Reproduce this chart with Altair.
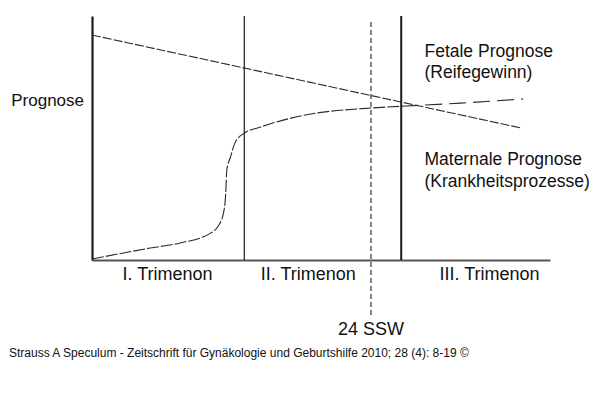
import altair as alt
import pandas as pd

# --- data (weeks of gestation vs. prognosis, schematic) ---
mat_weeks = [0.0, 36.9]
mat_values = [92.2, 54.1]

fet_weeks = [0.0, 5.0, 7.6, 10.2, 10.8, 11.3, 11.5, 11.6, 11.9, 12.3, 13.1, 14.5, 17.9, 24.0, 26.6]
fet_values = [0.4, 4.9, 7.0, 11.0, 13.5, 19.0, 27.0, 37.0, 42.0, 48.0, 52.0, 54.5, 59.0, 62.3, 63.0]
fet_late_weeks = [26.6, 31.7, 37.1]
fet_late_values = [63.0, 64.3, 66.0]

boundary_weeks = [13.1, 26.6]
boundary_widths = [1.2, 2.0]
ssw_week = [24.0]
ssw_label = ["24 SSW"]

tri_labels = ["I. Trimenon", "II. Trimenon", "III. Trimenon"]
tri_centers = [6.5, 18.6, 34.2]

ann_labels = ["Fetale Prognose", "(Reifegewinn)", "Maternale Prognose", "(Krankheitsprozesse)"]
ann_x = [28.6, 28.6, 28.6, 28.6]
ann_y = [85.2, 76.6, 41.0, 32.0]

y_title = "Prognose"
footer = "Strauss A Speculum - Zeitschrift für Gynäkologie und Geburtshilfe 2010; 28 (4): 8-19 ©"

W, H = 458, 244
FONT = "Liberation Sans"
LINE = "#2a2a2a"

xs = alt.Scale(domain=[0, 39.4], nice=False, zero=False)
ys = alt.Scale(domain=[0, 100], nice=False)

mat_df = pd.DataFrame({"week": mat_weeks, "value": mat_values})
fet_df = pd.DataFrame({
    "week": fet_weeks + fet_late_weeks,
    "value": fet_values + fet_late_values,
    "part": ["early"] * len(fet_weeks) + ["late"] * len(fet_late_weeks),
})
bnd_df = pd.DataFrame({"week": boundary_weeks, "w": boundary_widths})
ssw_df = pd.DataFrame({"week": ssw_week, "label": ssw_label})
tri_df = pd.DataFrame({"label": tri_labels, "week": tri_centers})
ann_df = pd.DataFrame({"label": ann_labels, "week": ann_x, "value": ann_y})
txt_df = pd.DataFrame({"t": [y_title]})
foot_df = pd.DataFrame({"t": [footer]})

base_x = alt.X("week:Q", scale=xs,
               axis=alt.Axis(domain=True, domainColor="#555", domainWidth=2,
                             ticks=False, labels=False, grid=False, title=None))
base_y = alt.Y("value:Q", scale=ys,
               axis=alt.Axis(domain=True, domainColor="#1a1a1a", domainWidth=2.2,
                             ticks=False, labels=False, grid=False, title=None))

maternal = alt.Chart(mat_df).mark_line(color=LINE, strokeWidth=1.1, strokeDash=[9, 2]).encode(
    x=base_x, y=base_y)

fetal = alt.Chart(fet_df).mark_line(color=LINE, strokeWidth=1.1, interpolate="monotone").encode(
    x=alt.X("week:Q", scale=xs),
    y=alt.Y("value:Q", scale=ys),
    detail="part:N",
    strokeDash=alt.StrokeDash("part:N", scale=alt.Scale(domain=["early", "late"],
                                                          range=[[12, 2], [17, 7]]), legend=None),
)

bounds = alt.Chart(bnd_df).mark_rule(color="#1a1a1a").encode(
    x=alt.X("week:Q", scale=xs),
    strokeWidth=alt.StrokeWidth("w:Q", scale=None),
)

ssw_rule = alt.Chart(ssw_df).mark_rule(color="#222", strokeWidth=1.1, strokeDash=[5, 3]).encode(
    x=alt.X("week:Q", scale=xs), y=alt.value(6), y2=alt.value(300))

ssw_text = alt.Chart(ssw_df).mark_text(font=FONT, fontSize=18, color="#111", baseline="middle").encode(
    x=alt.X("week:Q", scale=xs), y=alt.value(314), text="label:N")

tri_text = alt.Chart(tri_df).mark_text(font=FONT, fontSize=18, color="#111", baseline="middle").encode(
    x=alt.X("week:Q", scale=xs), y=alt.value(259), text="label:N")

ann_text = alt.Chart(ann_df).mark_text(font=FONT, fontSize=17.5, color="#111", align="left",
                                       baseline="middle").encode(
    x=alt.X("week:Q", scale=xs), y=alt.Y("value:Q", scale=ys), text="label:N")

ytitle = alt.Chart(txt_df).mark_text(font=FONT, fontSize=17, color="#111", align="right",
                                     baseline="middle").encode(
    x=alt.value(-8), y=alt.value(85), text="t:N")

foot = alt.Chart(foot_df).mark_text(font=FONT, fontSize=12, color="#111", align="left",
                                    baseline="middle").encode(
    x=alt.value(-83), y=alt.value(337), text="t:N")

chart = alt.layer(maternal, fetal, bounds, ssw_rule, ssw_text, tri_text, ann_text, ytitle, foot).properties(
    width=W, height=H,
    autosize=alt.AutoSizeParams(type="none"),
    padding={"left": 84, "top": 8, "right": 42, "bottom": 134},
    background="white",
).configure_view(stroke=None)

chart.save("out.html", embed_options={"renderer": "svg", "actions": False})
